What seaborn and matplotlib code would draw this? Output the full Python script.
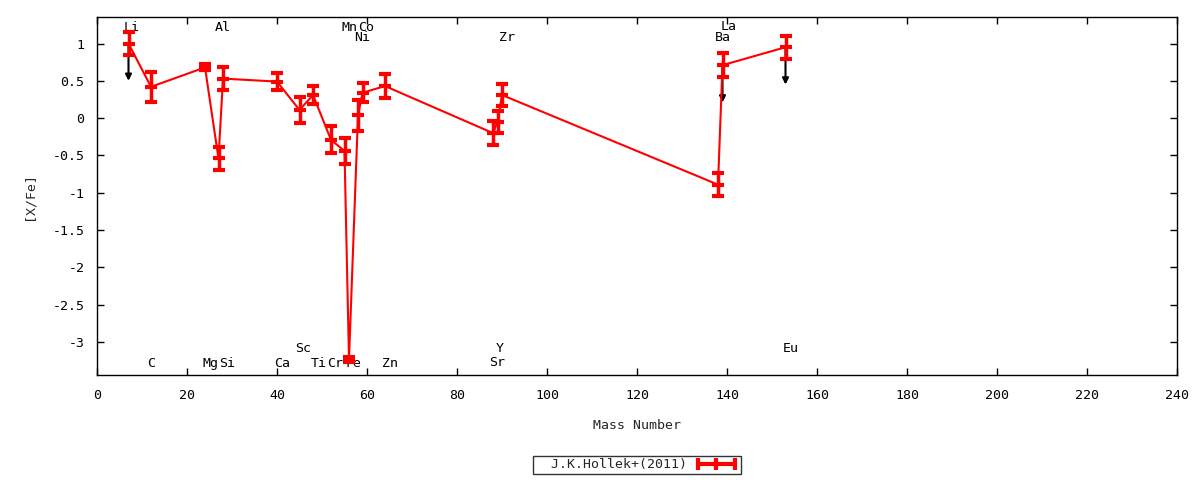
import matplotlib
matplotlib.use("Agg")
import matplotlib.pyplot as plt
from matplotlib.lines import Line2D
import seaborn as sns
import pandas as pd
import numpy as np

# ---- data ----
elements = ["Li", "C", "Mg", "Al", "Si", "Ca", "Sc", "Ti", "Cr", "Mn",
            "Fe", "Ni", "Co", "Zn", "Sr", "Y", "Zr", "Ba", "La", "Eu"]
mass_number = [7, 12, 24, 27, 28, 40, 45, 48, 52, 55,
               56, 58, 59, 64, 88, 89, 90, 138, 139, 153]
x_fe = [1.00, 0.42, 0.68, -0.54, 0.53, 0.49, 0.11, 0.31, -0.29, -0.44,
        -3.23, 0.04, 0.34, 0.43, -0.20, -0.05, 0.31, -0.89, 0.71, 0.95]
x_fe_err = [0.15, 0.20, 0.04, 0.15, 0.15, 0.11, 0.18, 0.12, 0.18, 0.17,
            0.03, 0.21, 0.13, 0.16, 0.16, 0.15, 0.15, 0.155, 0.16, 0.155]
upper_limit = [True, False, False, False, False, False, False, False, False, False,
               False, False, False, False, False, False, False, False, True, True]
arrow_length = 0.5

# element labels (x position, y position)
label_x = [7.8, 12.1, 25.2, 27.9, 28.9, 41.1, 45.9, 49.3, 53.0, 56.0,
           57.0, 59.0, 59.7, 65.1, 88.9, 89.4, 91.1, 139.0, 140.3, 154.2]
label_y = [1.22, -3.28, -3.28, 1.22, -3.28, -3.28, -3.09, -3.28, -3.28, 1.22,
           -3.28, 1.085, 1.22, -3.28, -3.27, -3.09, 1.085, 1.085, 1.23, -3.09]

series_name = "J.K.Hollek+(2011)"
x_ticks = list(range(0, 241, 20))
y_ticks = [1, 0.5, 0, -0.5, -1, -1.5, -2, -2.5, -3]
y_tick_labels = ["1", "0.5", "0", "-0.5", "-1", "-1.5", "-2", "-2.5", "-3"]

df = pd.DataFrame({"A": mass_number, "XFe": x_fe, "err": x_fe_err,
                   "ul": upper_limit, "el": elements})

sns.set_theme(style="white")
plt.rcParams["font.family"] = ["DejaVu Sans Mono", "DejaVu Sans"]
plt.rcParams["axes.unicode_minus"] = False

FS = 9.5
fig = plt.figure(figsize=(12, 4.8), dpi=100)
ax = fig.add_axes([97 / 1200, 1 - 375 / 480, 1080 / 1200, 358 / 480])

red = "#ff0000"

# upper-limit arrows
for a, v, u in zip(df["A"], df["XFe"], df["ul"]):
    if u:
        ax.annotate("", xy=(a, v - arrow_length), xytext=(a, v),
                    arrowprops=dict(arrowstyle="-|>", color="black", lw=1.5,
                                    mutation_scale=9, shrinkA=0, shrinkB=0),
                    zorder=2)

sns.lineplot(data=df, x="A", y="XFe", sort=False, estimator=None,
             color=red, linewidth=1.5, ax=ax, zorder=3, legend=False)
ax.errorbar(df["A"], df["XFe"], yerr=df["err"], fmt="none", ecolor=red,
            elinewidth=2.5, capsize=4.5, capthick=3, zorder=4)
ax.plot(df["A"], df["XFe"], linestyle="none", marker="_", markersize=9,
        markeredgewidth=3, color=red, zorder=4)

for t, lx, ly in zip(elements, label_x, label_y):
    ax.text(lx, ly, t, ha="center", va="center", fontsize=FS, color="black",
            zorder=1)

ax.set_xlim(0, 240)
ax.set_ylim(-3.44, 1.355)
ax.set_xticks(x_ticks)
ax.set_yticks(y_ticks)
ax.set_yticklabels(y_tick_labels)
ax.tick_params(direction="in", length=5, width=1, top=True, right=True,
               bottom=True, left=True, labelsize=FS, colors="black")
ax.tick_params(axis="x", pad=10)
ax.tick_params(axis="y", pad=9)
for s in ax.spines.values():
    s.set_color("black")
    s.set_linewidth(1)
ax.set_xlabel("Mass Number", fontsize=FS, labelpad=12)
ax.set_ylabel("[X/Fe]", fontsize=FS, labelpad=12)

handle = Line2D([], [], color=red, linewidth=3, marker="|", markersize=9,
                markeredgewidth=3)
leg = ax.legend([handle], ["  " + series_name], loc="center",
                bbox_to_anchor=(0.5, -0.251), numpoints=3, markerfirst=False,
                frameon=True, fancybox=False, edgecolor="black", fontsize=FS,
                handlelength=3.4, borderpad=0.2, borderaxespad=0,
                handletextpad=0.5)
leg.get_frame().set_linewidth(1)

fig.savefig("out.png", dpi=100)
